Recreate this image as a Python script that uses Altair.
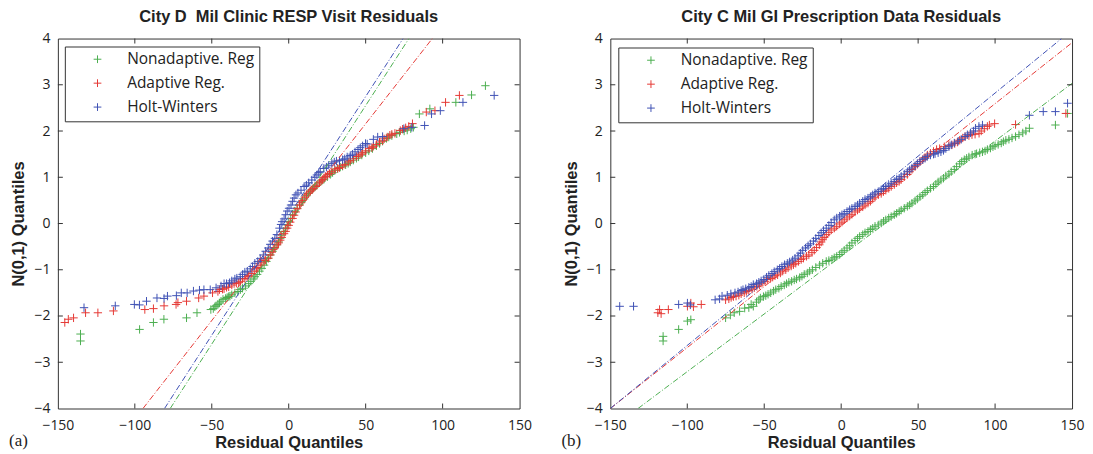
import altair as alt
import pandas as pd

SERIES = ["Nonadaptive. Reg", "Adaptive Reg.", "Holt-Winters"]
COLORS = ["#4caf50", "#e53935", "#3f51b5"]

X_TICKS = [-150, -100, -50, 0, 50, 100, 150]
Y_TICKS = [-4, -3, -2, -1, 0, 1, 2, 3, 4]
X_INNER = [-100, -50, 0, 50, 100]
Y_INNER = [-3, -2, -1, 0, 1, 2, 3]

TITLE_A = "City D\u00a0 Mil Clinic RESP Visit Residuals"
TITLE_B = "City C Mil GI Prescription Data Residuals"

# ---- panel (a) points: (residual quantile, N(0,1) quantile) ----
A_GREEN = [(-135.3, -2.39), (-135.3, -2.54), (-96.9, -2.29), (-87.9, -2.14), (-81.1, -2.07),
           (-66.4, -2.04), (-59.6, -1.93), (-50.6, -1.86), (-49, -1.84), (-47.2, -1.78),
           (-45, -1.72), (-42.7, -1.64), (-40, -1.6), (-38.2, -1.57), (-35, -1.5),
           (-31.4, -1.43), (-28, -1.35), (-24.6, -1.25), (-22, -1.15), (-19, -1.03),
           (-16, -0.9), (-13.3, -0.75), (-10.5, -0.6), (-7.7, -0.46), (-5.5, -0.32),
           (-3.2, -0.17), (-1, -0.03), (1.3, 0.11), (4, 0.27), (7, 0.40), (10, 0.53),
           (12.6, 0.65), (15.5, 0.74), (18.3, 0.83), (21.5, 0.92), (25.1, 1.01), (28.5, 1.1),
           (31.8, 1.19), (35, 1.24), (38.6, 1.30), (42, 1.37), (45.4, 1.44), (50, 1.53),
           (54.4, 1.62), (59, 1.73), (63.5, 1.84), (67, 1.9), (70.2, 1.94), (75, 2.0),
           (79.3, 2.05), (84.9, 2.37), (91.7, 2.48), (108.6, 2.62), (118.8, 2.78), (127.8, 2.98)]
A_GREEN_BAND = [(-48, -1.8), (-46, -1.75), (-44, -1.68), (-41, -1.62), (-39, -1.58), (-37, -1.54),
                (-33, -1.47), (-30, -1.4), (-26, -1.3), (-23, -1.2), (-20.5, -1.1), (-17.5, -0.97),
                (-14.5, -0.82), (-12, -0.68), (-9, -0.53), (-6.5, -0.4), (-4.5, -0.25), (-2, -0.1),
                (0, 0.04), (2.5, 0.19), (5.5, 0.33), (8.5, 0.47), (11.5, 0.6), (14, 0.7), (17, 0.79),
                (20, 0.88), (23, 0.96), (27, 1.06), (30, 1.15), (33.5, 1.22), (37, 1.27), (40, 1.33),
                (44, 1.41), (47.5, 1.48), (52, 1.57), (57, 1.68), (61, 1.78), (65, 1.87), (72, 1.97),
                (77, 2.02), (81, 2.08)]
A_RED = [(-145.5, -2.14), (-143.2, -2.07), (-139.8, -2.04), (-132, -1.93), (-124, -1.93),
         (-113.9, -1.89), (-93.5, -1.86), (-87.9, -1.84), (-81, -1.78), (-73.2, -1.75),
         (-72, -1.71), (-66.4, -1.68), (-58.5, -1.61), (-55.1, -1.57), (-49.5, -1.50),
         (-45, -1.43), (-42, -1.41), (-40.4, -1.38), (-37, -1.33), (-34, -1.29), (-31.4, -1.25),
         (-28.5, -1.19), (-26, -1.12), (-22.4, -1.03), (-20, -0.95), (-17.5, -0.85),
         (-15, -0.79), (-13.3, -0.75), (-11, -0.62), (-9, -0.52), (-6.6, -0.42), (-4.5, -0.3),
         (-2, -0.17), (0, -0.04), (2.5, 0.11), (4.5, 0.25), (7, 0.40), (9, 0.5), (11.5, 0.62),
         (14, 0.7), (16, 0.76), (18.3, 0.83), (21, 0.92), (23, 0.99), (25.1, 1.05), (28, 1.12),
         (31.8, 1.19), (35, 1.25), (38.6, 1.33), (42, 1.4), (45.4, 1.48), (48, 1.53),
         (52.2, 1.62), (55, 1.67), (59, 1.76), (62, 1.83), (65.7, 1.91), (69, 1.95),
         (72.5, 2.01), (76, 2.07), (80.4, 2.16), (89.4, 2.41), (95, 2.44), (101.9, 2.62),
         (110.9, 2.77)]
A_RED_BAND = [(-46, -1.47), (-43, -1.42), (-39, -1.37), (-35.5, -1.3), (-32.5, -1.28), (-30, -1.2),
              (-27, -1.15), (-24, -1.08), (-21, -0.98), (-18.5, -0.9), (-16, -0.8), (-12, -0.68),
              (-10, -0.56), (-7.5, -0.46), (-5.5, -0.36), (-3, -0.22), (-1, -0.1), (1, 0.03),
              (3.5, 0.18), (5.5, 0.32), (8, 0.45), (10.5, 0.57), (13, 0.66), (15, 0.73), (17, 0.8),
              (20, 0.88), (22, 0.95), (24, 1.02), (26.5, 1.08), (30, 1.16), (33, 1.21),
              (36.5, 1.28), (40, 1.36), (44, 1.45), (47, 1.5), (50, 1.57), (54, 1.64), (57, 1.71),
              (61, 1.79), (64, 1.87), (67, 1.93), (74, 2.04), (78, 2.1)]
A_BLUE = [(-133, -1.82), (-112.7, -1.78), (-100.3, -1.75), (-97, -1.76), (-92.4, -1.68),
          (-85.6, -1.61), (-81, -1.62), (-78.8, -1.57), (-73, -1.56), (-69.8, -1.50),
          (-66, -1.5), (-61.9, -1.46), (-58, -1.44), (-55.1, -1.43), (-51, -1.43),
          (-47.2, -1.39), (-44, -1.35), (-40.4, -1.30), (-37, -1.24), (-33.7, -1.18),
          (-30, -1.1), (-26.9, -1.03), (-23.5, -0.93), (-20.1, -0.82), (-16.5, -0.68),
          (-13.3, -0.53), (-10.5, -0.38), (-7.7, -0.24), (-6, -0.1), (-4.3, 0.04), (-2, 0.19),
          (0.2, 0.33), (2.5, 0.48), (4.7, 0.62), (8, 0.72), (11.5, 0.83), (15, 0.94),
          (18.3, 1.05), (20.5, 1.12), (22.8, 1.19), (26, 1.26), (29.6, 1.33), (33, 1.36),
          (36.4, 1.40), (40, 1.47), (43.1, 1.55), (46.5, 1.64), (49.9, 1.73), (57.8, 1.87),
          (74.8, 2.05), (80, 2.08), (88.3, 2.12), (92.8, 2.37), (98.5, 2.44), (113.2, 2.62),
          (133.5, 2.77)]
A_BLUE_BAND = [(-42, -1.30), (-38.5, -1.28), (-35, -1.2), (-31.5, -1.15), (-28.5, -1.05),
               (-25, -0.98), (-22, -0.86), (-18.5, -0.76), (-15, -0.6), (-12, -0.45), (-9, -0.32),
               (-5, -0.02), (-3, 0.1), (-1, 0.27), (1.5, 0.4), (3.5, 0.55), (6, 0.66), (10, 0.8),
               (13, 0.88), (17, 1.0), (19.5, 1.1), (24.5, 1.22), (28, 1.3), (31, 1.35), (35, 1.38),
               (38, 1.44), (41.5, 1.5), (45, 1.6), (48, 1.68), (51, 1.72), (55, 1.82), (61, 1.88)]

# ---- panel (b) points ----
B_GREEN = [(-115.7, -2.44), (-115.7, -2.54), (-105.6, -2.29), (-99.9, -2.11), (-97.7, -2.08),
           (-75.1, -2.04), (-72, -1.98), (-69.5, -1.93), (-66, -1.9), (-62.7, -1.83),
           (-60, -1.82), (-57.1, -1.79), (-55, -1.7), (-52.5, -1.61), (-49, -1.56),
           (-45.8, -1.50), (-42.5, -1.43), (-39, -1.36), (-35.5, -1.3), (-32.2, -1.25),
           (-29, -1.2), (-25.5, -1.14), (-22, -1.07), (-18.7, -1.00), (-14, -0.9),
           (-9.7, -0.82), (-6, -0.77), (-2.9, -0.71), (0.5, -0.62), (3.8, -0.53), (7, -0.42),
           (10.6, -0.32), (14, -0.24), (17.4, -0.17), (20.5, -0.1), (24.1, -0.03), (27.5, 0.05),
           (30.9, 0.12), (34.5, 0.19), (37.7, 0.26), (41, 0.33), (44.5, 0.40), (48, 0.49),
           (51.2, 0.58), (54.5, 0.67), (58, 0.76), (61.5, 0.85), (64.8, 0.94), (68, 1.03),
           (71.5, 1.12), (75, 1.23), (78.3, 1.34), (81.5, 1.41), (85.1, 1.48), (88, 1.51),
           (91.8, 1.55), (95, 1.6), (98.6, 1.66), (102, 1.71), (105.4, 1.77), (109, 1.82),
           (113.3, 1.88), (118, 1.96), (122.3, 2.06), (139.2, 2.13), (147.1, 2.38)]
B_GREEN_BAND = [(-58.5, -1.75), (-53.5, -1.65), (-50.5, -1.58), (-47.5, -1.53), (-44, -1.46),
                (-40.5, -1.4), (-37, -1.33), (-34, -1.27), (-30.5, -1.22), (-27, -1.17),
                (-24, -1.1), (-20.5, -1.03), (-16.5, -0.95), (-12, -0.86), (-8, -0.8),
                (-4.5, -0.74), (-1, -0.67), (2, -0.58), (5.5, -0.48), (9, -0.37), (12, -0.28),
                (15.5, -0.2), (19, -0.13), (22, -0.06), (26, 0.01), (29, 0.08), (32.5, 0.15),
                (36, 0.22), (39, 0.29), (43, 0.37), (46, 0.44), (49.5, 0.53), (53, 0.62),
                (56, 0.71), (60, 0.8), (63, 0.9), (66.5, 0.98), (70, 1.07), (73.5, 1.17),
                (77, 1.29), (80, 1.38), (83, 1.44), (87, 1.5), (90, 1.53), (93.5, 1.57),
                (97, 1.63), (100, 1.68), (104, 1.74), (107, 1.8), (111, 1.85), (115.5, 1.92),
                (120, 2.0)]
B_RED = [(-119.1, -1.93), (-118, -1.86), (-117, -1.95), (-112.3, -1.86), (-99.9, -1.79),
         (-97.7, -1.72), (-96, -1.8), (-90.9, -1.75), (-75.1, -1.65), (-71.5, -1.6),
         (-68.3, -1.57), (-65, -1.52), (-61.6, -1.47), (-58, -1.42), (-54.8, -1.36),
         (-51.5, -1.29), (-48, -1.21), (-44.5, -1.16), (-41.3, -1.11), (-38, -1.03),
         (-34.5, -0.96), (-31, -0.89), (-27.7, -0.82), (-24.5, -0.75), (-21, -0.68),
         (-17.5, -0.58), (-14.2, -0.46), (-12, -0.35), (-9.7, -0.24), (-6.5, -0.14),
         (-2.9, -0.06), (0.5, 0.03), (3.8, 0.12), (7, 0.2), (10.6, 0.29), (14, 0.36),
         (17.4, 0.44), (20.5, 0.53), (24.1, 0.62), (27.5, 0.69), (30.9, 0.76), (34.5, 0.84),
         (37.7, 0.91), (41, 1.01), (44.5, 1.12), (48, 1.23), (51.2, 1.34), (54.5, 1.43),
         (58, 1.52), (62, 1.6), (67, 1.66), (70, 1.69), (73.8, 1.73), (77, 1.8), (80.5, 1.88),
         (85, 1.92), (89.6, 1.95), (93, 2.05), (96.3, 2.13), (99.7, 2.16), (113.3, 2.14),
         (146, 2.38)]
B_RED_BAND = [(-73, -1.63), (-70, -1.58), (-66.5, -1.55), (-63, -1.5), (-60, -1.45),
              (-56.5, -1.39), (-53, -1.33), (-49.5, -1.25), (-46, -1.19), (-43, -1.13),
              (-39.5, -1.07), (-36, -1.0), (-32.5, -0.92), (-29.5, -0.86), (-26, -0.78),
              (-22.5, -0.71), (-19, -0.63), (-16, -0.52), (-13, -0.4), (-11, -0.3), (-8, -0.19),
              (-4.5, -0.1), (-1, -0.01), (2, 0.08), (5.5, 0.16), (9, 0.25), (12, 0.32),
              (15.5, 0.4), (19, 0.48), (22, 0.57), (26, 0.65), (29, 0.72), (32.5, 0.8),
              (36, 0.88), (39, 0.95), (43, 1.06), (46, 1.17), (49.5, 1.28), (53, 1.38),
              (56, 1.48), (60, 1.56), (64, 1.62), (72, 1.7), (75.5, 1.76), (79, 1.85),
              (83, 1.9), (87, 1.93), (91, 2.0), (95, 2.1)]
B_BLUE = [(-143.9, -1.79), (-134.9, -1.79), (-105.6, -1.75), (-99.9, -1.72), (-98, -1.76),
          (-81.9, -1.65), (-77.4, -1.57), (-74, -1.55), (-71.7, -1.52), (-67, -1.48),
          (-63.8, -1.43), (-60, -1.38), (-57.1, -1.32), (-53.5, -1.27), (-50.3, -1.21),
          (-47, -1.12), (-43.5, -1.04), (-40, -0.97), (-36.8, -0.89), (-33.5, -0.83),
          (-30, -0.75), (-26.5, -0.64), (-23.2, -0.53), (-20, -0.44), (-16.5, -0.32),
          (-13, -0.2), (-9.7, -0.10), (-6.5, 0.02), (-2.9, 0.12), (0.5, 0.19), (3.8, 0.26),
          (7, 0.33), (10.6, 0.40), (14, 0.48), (17.4, 0.55), (20.5, 0.62), (24.1, 0.69),
          (27.5, 0.76), (30.9, 0.83), (34.5, 0.91), (37.7, 0.98), (41, 1.07), (44.5, 1.16),
          (48, 1.25), (51.2, 1.34), (54.5, 1.41), (58, 1.48), (61, 1.51), (64.8, 1.55),
          (68, 1.62), (71.5, 1.70), (76, 1.78), (80.5, 1.88), (84, 1.96), (87.3, 2.06),
          (91.8, 2.13), (122.3, 2.34), (131.3, 2.42), (139.2, 2.42), (147.1, 2.60)]
B_BLUE_BAND = [(-79, -1.63), (-69, -1.5), (-65, -1.45), (-62, -1.41), (-58.5, -1.36), (-55, -1.3),
               (-52, -1.24), (-48.5, -1.16), (-45, -1.08), (-41.5, -1.0), (-38.5, -0.93),
               (-35, -0.86), (-31.5, -0.79), (-28, -0.7), (-25, -0.58), (-21.5, -0.48),
               (-18, -0.38), (-14.5, -0.26), (-11.5, -0.15), (-8, -0.04), (-4.5, 0.08),
               (-1, 0.16), (2, 0.22), (5.5, 0.3), (9, 0.37), (12, 0.44), (15.5, 0.52), (19, 0.58),
               (22, 0.66), (26, 0.73), (29, 0.8), (32.5, 0.87), (36, 0.95), (39, 1.02),
               (43, 1.12), (46, 1.2), (49.5, 1.3), (53, 1.38), (56, 1.45), (60, 1.5), (63, 1.53),
               (66.5, 1.58), (70, 1.66), (73.5, 1.74), (78, 1.82), (82, 1.92), (86, 2.0),
               (89.5, 2.1)]

# ---- reference lines (x1, y1, x2, y2) ----
A_LINES = [(-77, -4, 78.1, 4), (-94.7, -4, 93.3, 4), (-80.7, -4, 74.3, 4)]
B_LINES = [(-132, -4, 150, 3.03), (-150, -4, 150, 3.91), (-150, -4, 143.2, 4)]

PLUS = "M-1,0L1,0M0,-1L0,1"
W, H = 463, 371
XSCALE = alt.Scale(domain=[-150, 150], nice=False, zero=False)
YSCALE = alt.Scale(domain=[-4, 4], nice=False, zero=False)
CSCALE = alt.Scale(domain=SERIES, range=COLORS)


def panel(pts, lines, title, tag, lx, ly):
    rows = []
    for name, series in zip(SERIES, pts):
        for x, y in series:
            rows.append({"x": x, "y": y, "series": name})
    df = pd.DataFrame(rows)
    ldf = pd.DataFrame([{"series": n, "x": a, "y": b, "x2": c, "y2": d}
                        for n, (a, b, c, d) in zip(SERIES, lines)])
    legend = alt.Legend(title=None, orient="none", legendX=lx, legendY=ly,
                        strokeColor="#333", fillColor="white", padding=5,
                        symbolType=PLUS, symbolSize=60, symbolStrokeWidth=1,
                        symbolOffset=20, labelOffset=22, labelFontSize=15.5,
                        labelFont="Open Sans", labelColor="#222", rowPadding=7,
                        cornerRadius=0)
    xax = alt.Axis(values=X_TICKS, ticks=False, domain=False, grid=False, labelPadding=10,
                   labelFlush=False, labelOverlap=False, title="Residual Quantiles",
                   titlePadding=2)
    yax = alt.Axis(values=Y_TICKS, ticks=False, domain=False, grid=False, labelPadding=8,
                   labelFlush=False, labelOverlap=False, title="N(0,1) Quantiles",
                   titlePadding=7)
    color = alt.Color("series:N", scale=CSCALE, legend=legend, sort=SERIES)
    points = alt.Chart(df).mark_point(shape=PLUS, filled=False, size=70, strokeWidth=1,
                                      opacity=1, clip=True).encode(
        x=alt.X("x:Q", scale=XSCALE, axis=xax),
        y=alt.Y("y:Q", scale=YSCALE, axis=yax),
        color=color,
    )
    refl = alt.Chart(ldf).mark_rule(strokeDash=[6, 2, 1, 2], strokeWidth=1, clip=True).encode(
        x=alt.X("x:Q", scale=XSCALE, axis=xax),
        y=alt.Y("y:Q", scale=YSCALE, axis=yax),
        x2="x2:Q", y2="y2:Q",
        color=color,
    )
    xt = pd.DataFrame({"x": X_INNER})
    yt = pd.DataFrame({"y": Y_INNER})
    tb = alt.Chart(xt).mark_rule(color="#333", strokeWidth=1).encode(
        x=alt.X("x:Q", scale=XSCALE, axis=xax), y=alt.value(H), y2=alt.value(H - 5))
    tt = alt.Chart(xt).mark_rule(color="#333", strokeWidth=1).encode(
        x=alt.X("x:Q", scale=XSCALE, axis=xax), y=alt.value(0), y2=alt.value(5))
    tl = alt.Chart(yt).mark_rule(color="#333", strokeWidth=1).encode(
        y=alt.Y("y:Q", scale=YSCALE, axis=yax), x=alt.value(0), x2=alt.value(5))
    tr = alt.Chart(yt).mark_rule(color="#333", strokeWidth=1).encode(
        y=alt.Y("y:Q", scale=YSCALE, axis=yax), x=alt.value(W), x2=alt.value(W - 5))
    lab = alt.Chart(pd.DataFrame({"t": [tag]})).mark_text(
        align="left", baseline="middle", font="Liberation Serif", fontSize=17,
        color="#222").encode(text="t:N", x=alt.value(-49), y=alt.value(H + 33))
    return alt.layer(points, refl, tb, tt, tl, tr, lab).properties(
        width=W, height=H,
        title=alt.TitleParams(title, font="Liberation Sans", fontSize=16.5, fontWeight="bold",
                              color="#222", offset=6, anchor="middle"))


left = panel([A_GREEN + A_GREEN_BAND, A_RED + A_RED_BAND, A_BLUE + A_BLUE_BAND],
             A_LINES, TITLE_A, "(a)", 7, 8)
right = panel([B_GREEN + B_GREEN_BAND, B_RED + B_RED_BAND, B_BLUE + B_BLUE_BAND],
              B_LINES, TITLE_B, "(b)", 8, 9)

chart = alt.hconcat(left, right, spacing=28).resolve_scale(
    color="independent").resolve_legend(color="independent").properties(
    padding={"left": 0, "top": 0, "right": 0, "bottom": 0}
).configure_view(stroke="#333", strokeWidth=1).configure_axis(
    labelFont="Open Sans", labelFontSize=14, labelColor="#222",
    titleFont="Liberation Sans", titleFontSize=16.5, titleFontWeight="bold", titleColor="#222")

chart.save("out.html", embed_options={"renderer": "svg", "actions": False})
